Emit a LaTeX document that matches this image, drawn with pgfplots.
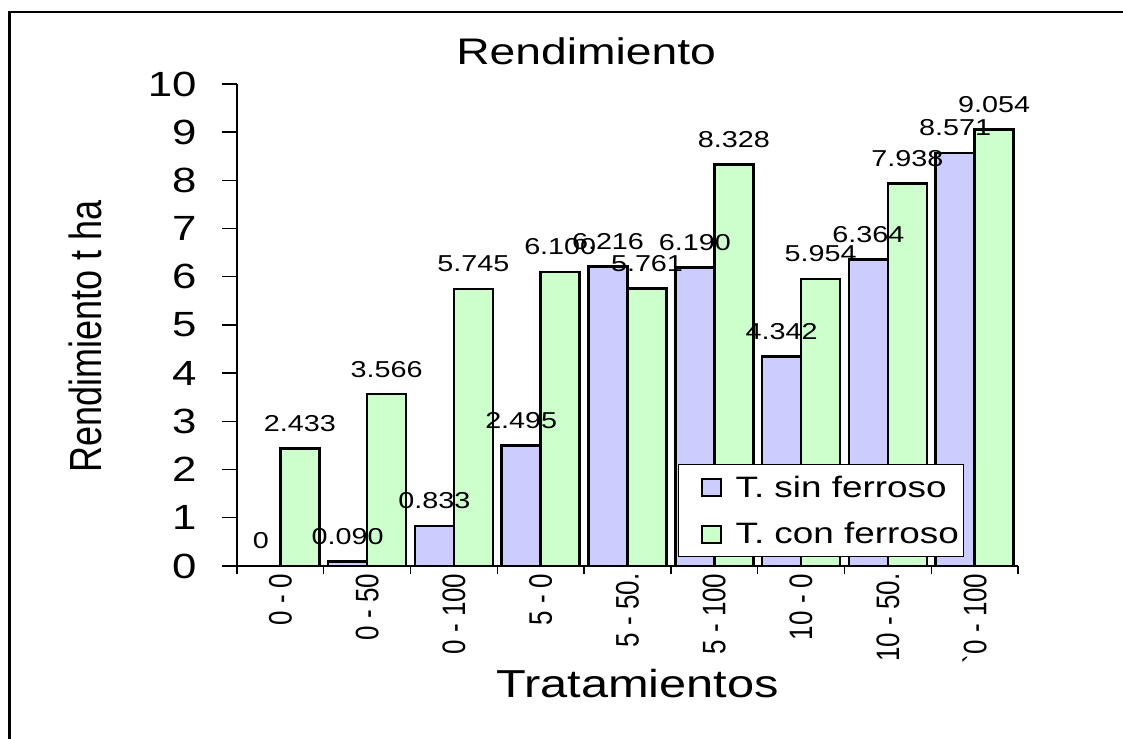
\documentclass[border=0pt]{standalone}
\usepackage{pgfplots}
\pgfplotsset{compat=1.18}
\usepackage{pgfplotstable}
\usepackage{graphicx}
\usepackage{fontspec}
\setmainfont{Liberation Sans}[FakeStretch=1.25]
\newfontfamily\rotfont{Liberation Sans}
\definecolor{barblue}{RGB}{204,204,255}
\definecolor{bargreen}{RGB}{204,255,204}
\newcommand\rl[1]{\scalebox{1}[1.25]{\rotfont\fontsize{26}{26}\selectfont #1}}
\pgfplotstableread{
x y lab
0 0 0
1 0.090 0.090
2 0.833 0.833
3 2.495 2.495
4 6.216 6.216
5 6.190 6.190
6 4.342 4.342
7 6.364 6.364
8 8.571 8.571
}\sinf
\pgfplotstableread{
x y lab
0 2.433 2.433
1 3.566 3.566
2 5.745 5.745
3 6.100 6.100
4 5.761 5.761
5 8.328 8.328
6 5.954 5.954
7 7.938 7.938
8 9.054 9.054
}\conf
\begin{document}
\begin{tikzpicture}
\useasboundingbox (0pt,0pt) rectangle (1123pt,738pt);
\draw[line width=2.2pt] (9.5pt,-3pt) -- (9.5pt,726pt) -- (1126pt,726pt);
\begin{axis}[
  at={(237pt,172pt)}, anchor=south west,
  scale only axis, width=781pt, height=482pt,
  xmin=-0.5, xmax=8.5, ymin=0, ymax=10,
  ybar=0pt, bar width=39pt,
  axis x line=bottom, axis y line=left,
  axis line style={-, line width=1.4pt},
  tick align=outside,
  ytick={0,1,...,10},
  xtick={0,1,...,8},
  xticklabels={\rl{0 - 0},\rl{0 - 50},\rl{0 - 100},\rl{5 - 0},\rl{5 - 50.},\rl{5 - 100},\rl{10 - 0},\rl{10 - 50.},\rl{`0 - 100}},
  minor xtick={-0.5,0.5,1.5,2.5,3.5,4.5,5.5,6.5,7.5,8.5},
  major x tick style={draw=none},
  minor tick length=8pt, major tick length=15pt,
  tick style={black, line width=1.4pt},
  /pgf/number format/assume math mode=true,
  yticklabel style={font=\fontsize{35}{35}\selectfont, xshift=-22pt},
  xticklabel style={yshift=11pt, rotate=90, anchor=east},
  title={Rendimiento},
  title style={font=\fontsize{37}{37}\selectfont, at={(axis description cs:0.447,1.029)}, anchor=base},
  xlabel={Tratamientos},
  xlabel style={font=\fontsize{39}{39}\selectfont, at={(axis description cs:0.513,-0.2718)}, anchor=base},
  ylabel={\scalebox{1}[1.25]{\rotfont\fontsize{36}{36}\selectfont Rendimiento t ha}},
  ylabel style={at={(axis description cs:-0.1946,0.476)}, anchor=center},
  every node near coord/.append style={font=\fontsize{23}{23}\selectfont, anchor=center, yshift=25pt, text=black},
  legend style={at={(axis description cs:0.5647,0.0187)}, anchor=south west, draw=black, line width=1pt, fill=white, font=\fontsize{29.5}{29.5}\selectfont, row sep=20pt, inner xsep=3pt, inner ysep=9pt},
  legend cell align=left,
]
\addplot[forget plot, fill=barblue, draw=black, line width=2.6pt, bar shift=-19.5pt, nodes near coords, point meta=explicit symbolic] table[x=x,y=y,meta=lab] {\sinf};
\addplot[forget plot, fill=bargreen, draw=black, line width=2.6pt, bar shift=19.5pt, nodes near coords, point meta=explicit symbolic] table[x=x,y=y,meta=lab] {\conf};
\addlegendimage{legend image code/.code={\path[draw=none,fill=none] (0pt,-10pt) rectangle (52pt,10pt); \draw[fill=barblue, draw=black, line width=2pt] (20pt,-9pt) rectangle (39pt,8pt);}}
\addlegendimage{legend image code/.code={\path[draw=none,fill=none] (0pt,-10pt) rectangle (52pt,10pt); \draw[fill=bargreen, draw=black, line width=2pt] (20pt,-9pt) rectangle (39pt,8pt);}}
\legend{T. sin ferroso, T. con ferroso}
\end{axis}
\end{tikzpicture}
\end{document}
